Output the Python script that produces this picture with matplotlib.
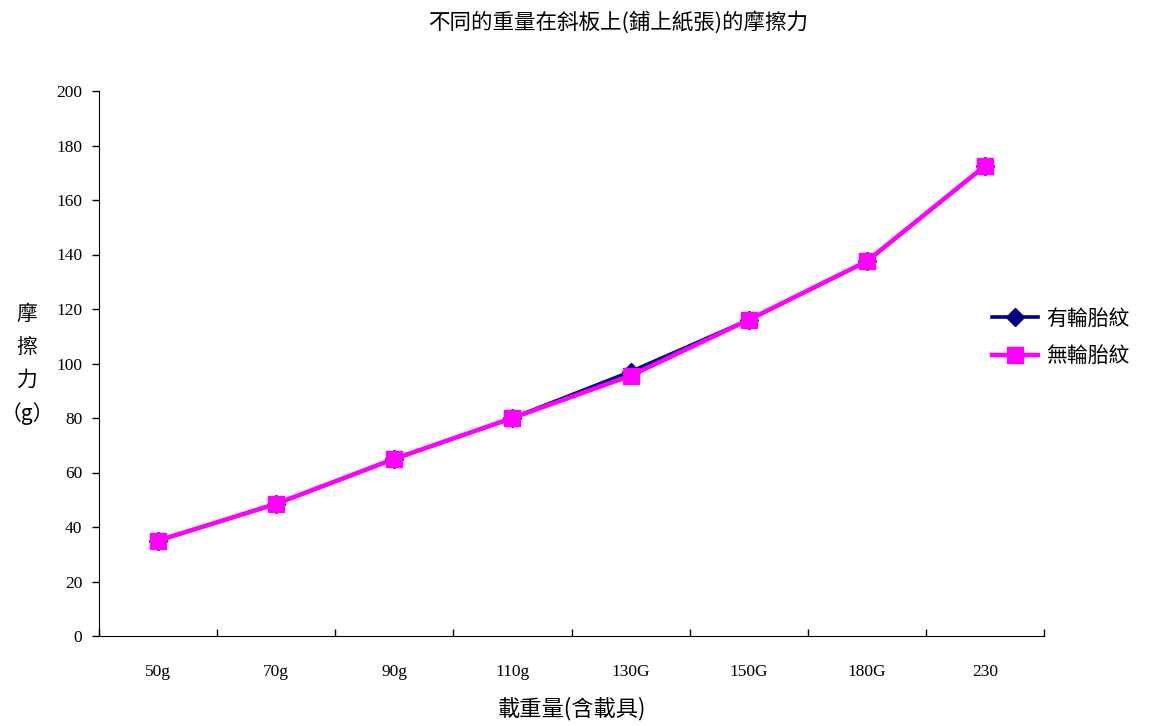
import matplotlib
matplotlib.use("Agg")
import matplotlib.pyplot as plt
import numpy as np

# data
categories = ["50g", "70g", "90g", "110g", "130G", "150G", "180G", "230"]
with_tread = [35, 48.5, 65, 80, 97, 116, 137.5, 172.5]     # 有輪胎紋
without_tread = [35, 48.5, 65, 80, 95.5, 116, 137.5, 172.5]  # 無輪胎紋

cjk = ["Noto Sans CJK TC", "DejaVu Sans"]
serif = ["Liberation Serif", "DejaVu Serif"]

fig = plt.figure(figsize=(11.62, 7.26), dpi=100)
ax = fig.add_axes([99 / 1162, 1 - 636 / 726, (1044 - 99) / 1162, (636 - 91) / 726])

x = np.arange(len(categories))
ax.plot(x, with_tread, color="#000080", lw=2.6, marker="D", ms=9,
        label="有輪胎紋", zorder=3)
ax.plot(x, without_tread, color="#FF00FF", lw=3.2, marker="s", ms=11.5,
        label="無輪胎紋", zorder=4)

ax.set_xlim(-0.5, len(categories) - 0.5)
ax.set_ylim(0, 200)
ax.set_yticks(np.arange(0, 201, 20))

ax.set_xticks(x)
ax.set_xticklabels(categories, fontfamily=serif, fontsize=12.5)
ax.set_xticks(np.arange(-0.5, len(categories), 1), minor=True)
ax.tick_params(axis="x", which="major", length=0, pad=20)
ax.tick_params(axis="x", which="minor", direction="in", length=5, width=1)
ax.tick_params(axis="y", direction="out", length=5, width=1, pad=7)
for lab in ax.get_yticklabels():
    lab.set_fontfamily(serif)
    lab.set_fontsize(12.5)

ax.spines["top"].set_visible(False)
ax.spines["right"].set_visible(False)

fig.text(618 / 1162, 1 - 22 / 726, "不同的重量在斜板上(鋪上紙張)的摩擦力",
         ha="center", va="center", fontfamily=cjk, fontsize=15.5)
fig.text(572 / 1162, 1 - 709 / 726, "載重量(含載具)",
         ha="center", va="center", fontfamily=cjk, fontsize=16)
fig.text(27 / 1162, 1 - 364 / 726, "摩\n擦\n力\n（g）",
         ha="center", va="center", fontfamily=cjk, fontsize=15, linespacing=1.65)

ax.legend(loc="center left", bbox_to_anchor=(0.945, 0.548), frameon=False,
          borderaxespad=0, borderpad=0,
          prop={"family": cjk, "size": 15}, handlelength=2.2,
          handletextpad=0.4, labelspacing=0.75)

fig.savefig("out.png", dpi=100)
